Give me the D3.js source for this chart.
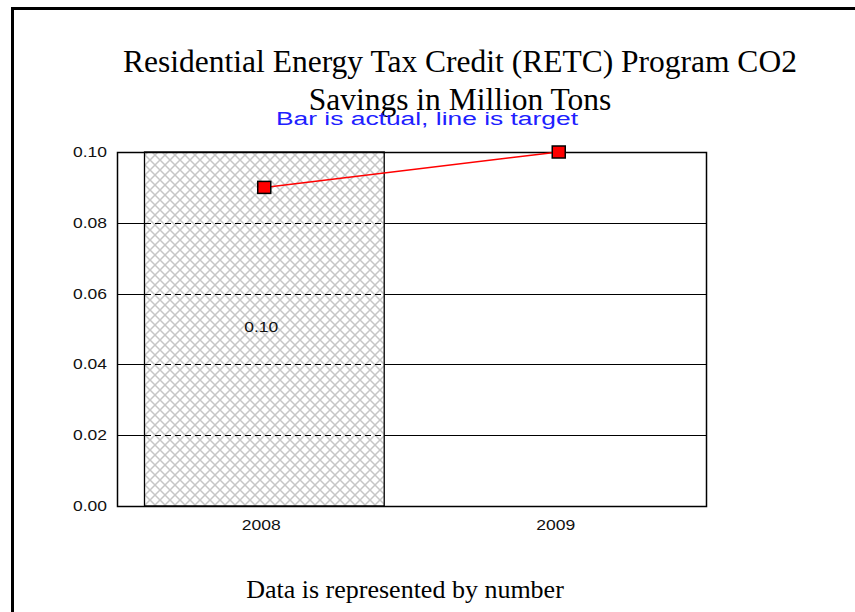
<!DOCTYPE html>
<html>
<head>
<meta charset="utf-8">
<script src="https://cdn.jsdelivr.net/npm/d3@7"></script>
<style>
  body { margin: 0; background: #fff; }
  svg { display: block; }
</style>
</head>
<body>
<svg id="chart" width="855" height="612"></svg>
<script>
// Chart data
const categories = ['2008', '2009'];
const actualValues = [0.10, null];
const targetValues = [0.09, 0.10];
const yTicks = [0.00, 0.02, 0.04, 0.06, 0.08, 0.10];
const titleLines = ['Residential Energy Tax Credit (RETC) Program CO2', 'Savings in Million Tons'];

const svg = d3.select('#chart');
const plot = { left: 117, right: 706, top: 152, bottom: 506 };

// Hatch pattern for the actual bar
const defs = svg.append('defs');
const pat = defs.append('pattern')
  .attr('id', 'hatch')
  .attr('patternUnits', 'userSpaceOnUse')
  .attr('width', 10)
  .attr('height', 10);
pat.append('rect').attr('width', 10).attr('height', 10).attr('fill', '#fff');
pat.append('path')
  .attr('d', 'M0,0L10,10M10,0L0,10')
  .attr('stroke', '#c6c6c6')
  .attr('stroke-width', 1.5);

// Outer frame (left and top edges only)
svg.append('path')
  .attr('d', 'M12.5,612V8.5H855')
  .attr('fill', 'none')
  .attr('stroke', '#000')
  .attr('stroke-width', 3);

// Title
svg.append('text')
  .attr('x', 460)
  .attr('y', 72)
  .attr('text-anchor', 'middle')
  .attr('font-family', 'Liberation Serif, Times New Roman, serif')
  .attr('font-size', 31.5)
  .selectAll('tspan')
  .data(titleLines)
  .join('tspan')
  .attr('x', 460)
  .attr('dy', (d, i) => i === 0 ? 0 : 38)
  .text(d => d);

// Scales
const x = d3.scaleBand()
  .domain(categories)
  .range([plot.left, plot.right])
  .paddingInner(0.186)
  .paddingOuter(0.093);

const y = d3.scaleLinear()
  .domain([0, 0.1])
  .range([plot.bottom, plot.top]);

// Grid lines (solid)
svg.append('g')
  .selectAll('line')
  .data(yTicks.slice(1, -1))
  .join('line')
  .attr('x1', plot.left)
  .attr('x2', plot.right)
  .attr('y1', d => Math.round(y(d)) + 0.5)
  .attr('y2', d => Math.round(y(d)) + 0.5)
  .attr('stroke', '#000');

// Actual bar
const barData = categories.map((c, i) => ({ cat: c, value: actualValues[i] }))
  .filter(d => d.value != null);

svg.append('g')
  .selectAll('rect')
  .data(barData)
  .join('rect')
  .attr('x', d => Math.round(x(d.cat)) + 0.5)
  .attr('y', d => y(d.value))
  .attr('width', x.bandwidth())
  .attr('height', d => plot.bottom - y(d.value))
  .attr('fill', 'url(#hatch)')
  .attr('stroke', '#000')
  .attr('stroke-width', 1.3);

// Dashed grid lines across the bar
barData.forEach(b => {
  svg.append('g')
    .selectAll('line')
    .data(yTicks.slice(1, -1))
    .join('line')
    .attr('x1', Math.round(x(b.cat)) + 1)
    .attr('x2', Math.round(x(b.cat) + x.bandwidth()))
    .attr('y1', d => Math.round(y(d)) + 0.5)
    .attr('y2', d => Math.round(y(d)) + 0.5)
    .attr('stroke', '#000')
    .attr('stroke-dasharray', '6,4');
});

// Plot frame
svg.append('rect')
  .attr('x', plot.left + 0.5)
  .attr('y', plot.top + 0.5)
  .attr('width', plot.right - plot.left)
  .attr('height', plot.bottom - plot.top)
  .attr('fill', 'none')
  .attr('stroke', '#000')
  .attr('stroke-width', 1.5);

// Y axis labels
const labelFont = 'Liberation Sans, Arial, sans-serif';
svg.append('g')
  .selectAll('text')
  .data(yTicks)
  .join('text')
  .attr('x', 107)
  .attr('y', d => y(d) + 5)
  .attr('text-anchor', 'end')
  .attr('font-family', labelFont)
  .attr('font-size', 14)
  .attr('textLength', 34)
  .attr('lengthAdjust', 'spacingAndGlyphs')
  .attr('fill', '#111')
  .text(d => d.toFixed(2));

// X axis labels
svg.append('g')
  .selectAll('text')
  .data(categories)
  .join('text')
  .attr('x', d => x(d) + x.bandwidth() / 2 - 3)
  .attr('y', 530)
  .attr('text-anchor', 'middle')
  .attr('font-family', labelFont)
  .attr('font-size', 14)
  .attr('textLength', 39)
  .attr('lengthAdjust', 'spacingAndGlyphs')
  .attr('fill', '#111')
  .text(d => d);

// Bar value label
svg.append('g')
  .selectAll('text')
  .data(barData)
  .join('text')
  .attr('x', d => x(d.cat) + x.bandwidth() / 2 - 3)
  .attr('y', d => y(d.value / 2) + 3)
  .attr('text-anchor', 'middle')
  .attr('font-family', labelFont)
  .attr('font-size', 14)
  .attr('textLength', 34)
  .attr('lengthAdjust', 'spacingAndGlyphs')
  .attr('fill', '#111')
  .text(d => d.value.toFixed(2));

// Target line
const targetData = categories.map((c, i) => ({ cat: c, value: targetValues[i] }));
const cx = d => x(d.cat) + x.bandwidth() / 2;

svg.append('path')
  .datum(targetData)
  .attr('d', d3.line().x(cx).y(d => y(d.value)))
  .attr('fill', 'none')
  .attr('stroke', '#ff0000')
  .attr('stroke-width', 1.5);

svg.append('g')
  .selectAll('rect')
  .data(targetData)
  .join('rect')
  .attr('x', d => cx(d) - 6.5)
  .attr('y', d => y(d.value) - 6)
  .attr('width', 13)
  .attr('height', 12)
  .attr('fill', '#ff0000')
  .attr('stroke', '#000')
  .attr('stroke-width', 1.5);

// Legend note
svg.append('text')
  .attr('x', 427)
  .attr('y', 125)
  .attr('text-anchor', 'middle')
  .attr('font-family', labelFont)
  .attr('font-size', 18)
  .attr('textLength', 302)
  .attr('lengthAdjust', 'spacingAndGlyphs')
  .attr('fill', '#2020ff')
  .text('Bar is actual, line is target');

// Footer
svg.append('text')
  .attr('x', 405)
  .attr('y', 598)
  .attr('text-anchor', 'middle')
  .attr('font-family', 'Liberation Serif, Times New Roman, serif')
  .attr('font-size', 26)
  .text('Data is represented by number');
</script>
</body>
</html>
